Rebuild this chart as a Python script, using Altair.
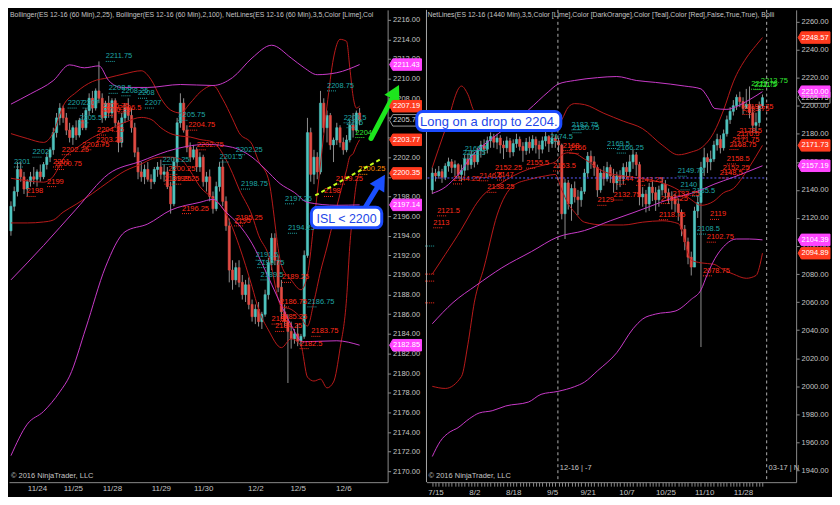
import json
import altair as alt
import pandas as pd

SANS = "'Liberation Sans', Arial, sans-serif"
UP, DOWN, WICK = "#4fc4bf", "#e24b43", "#8f8f8f"
RED_BAND, MAG_BAND = "#b81a1a", "#c83ac8"
TXT = {"teal": "#1fa5a5", "red": "#ff2b1a", "lime": "#33e633", "orange": "#ff8c00"}
AXIS_GRAY, LABEL_GRAY = "#8a8a8a", "#c4c4c4"

W1, W2, H = 380, 371, 474

# ---------------- LEFT PANEL: ES 12-16, 60 min ----------------
l_first_open = 2194.5
l_close = [2197, 2198.5, 2200.75, 2200, 2198.75, 2199.5, 2200, 2199.75, 2200.5, 2200,
           2201.25, 2202, 2202.75, 2204.5, 2206, 2207, 2206, 2204.75, 2204, 2205,
           2204.25, 2205.75, 2205, 2206.75, 2208, 2207, 2208.75, 2208, 2206, 2207.5,
           2206.5, 2207.75, 2205.5, 2203.5, 2206, 2207, 2206.25, 2205, 2202.5, 2200.5,
           2200, 2200.75, 2199.75, 2199.5, 2200.75, 2201, 2200.25, 2200.5, 2199, 2197.25,
           2201.5, 2205.5, 2207.5, 2204.75, 2203, 2202, 2202.75, 2201, 2202, 2199.5,
           2200, 2198, 2196.75, 2199, 2201, 2197.5, 2195, 2190.5, 2189.5, 2190.75,
           2189.25, 2188, 2189, 2187, 2185.75, 2186.5, 2185.25, 2186, 2188, 2191.25,
           2193.75, 2191.5, 2188.75, 2186.25, 2185.25, 2184.25, 2183.5, 2184, 2183.25, 2183.75,
           2192, 2204.5, 2200.25, 2202, 2200.5, 2207.5, 2205, 2206.25, 2203.25, 2203.75,
           2205, 2203.5, 2202.75, 2203.75, 2205.25, 2204.75, 2206.5, 2205.75]
l_high = [2197.5, 2199, 2201.5, 2201.5, 2200.5, 2199.75, 2200.5, 2201, 2200.75, 2201.25,
          2201.5, 2202.5, 2203, 2205, 2206.5, 2207.5, 2207.25, 2206.5, 2205.5, 2205.25,
          2205.75, 2206, 2206.5, 2207, 2208.5, 2208.75, 2209, 2211.75, 2208.5, 2207.75,
          2208.25, 2208, 2208, 2205.75, 2206.5, 2207.5, 2208, 2207, 2205.5, 2203,
          2201.5, 2201.25, 2201.5, 2200.25, 2201, 2201.5, 2201.75, 2201.25, 2201, 2199.5,
          2202, 2206, 2208.5, 2208, 2205.25, 2203.5, 2203.25, 2203, 2202.5, 2202.25,
          2200.5, 2200.75, 2198.5, 2199.5, 2201.5, 2201.75, 2198, 2195.75, 2191.5, 2191.25,
          2191.5, 2190, 2189.5, 2189.75, 2187.5, 2187, 2187.25, 2186.25, 2188.5, 2191.75,
          2194.25, 2194.25, 2192, 2189.5, 2187, 2186, 2185.25, 2184.5, 2185, 2184,
          2192.5, 2206, 2205, 2202.75, 2202.5, 2208.75, 2208, 2206.75, 2206.5, 2204,
          2205.5, 2205.25, 2204, 2204.25, 2205.75, 2206.5, 2206.75, 2207]
l_low = [2194, 2196.5, 2198, 2199.5, 2198.25, 2198, 2199, 2199.25, 2199, 2199.5,
         2199.75, 2200.75, 2201.5, 2202.25, 2204, 2205.25, 2205.5, 2204.25, 2203.5, 2203.25,
         2203.75, 2204, 2204.75, 2204.75, 2206.25, 2206.5, 2206.75, 2207.5, 2205.5, 2205.75,
         2206, 2206, 2205, 2202.5, 2203, 2205.5, 2205.75, 2204.5, 2202, 2199.75,
         2199.5, 2199.25, 2199.5, 2198.75, 2199.25, 2200, 2199.75, 2199.5, 2198.75, 2196.25,
         2197, 2201, 2205, 2204.5, 2202.5, 2201.5, 2201.75, 2200.5, 2200.5, 2199,
         2198.5, 2197.5, 2196.25, 2196.5, 2198.5, 2197, 2194.5, 2189.25, 2188.5, 2189,
         2188.75, 2187.5, 2187.25, 2186.5, 2185.25, 2185, 2184.75, 2184.5, 2185.75, 2187.5,
         2190.5, 2191, 2188.25, 2185.5, 2184.75, 2179, 2182.5, 2183, 2182.75, 2182.75,
         2183.5, 2191.75, 2199.5, 2199.25, 2199.75, 2200.25, 2204.5, 2203.5, 2202.75, 2201.5,
         2203.25, 2203, 2202.25, 2202.5, 2203.5, 2204, 2204.5, 2205.25]

l_tick_pos = [8, 19, 31, 46, 59, 75, 88, 102]
l_tick_lab = ["11/24", "11/25", "11/28", "11/29", "11/30", "12/2", "12/5", "12/6"]
l_y_ticks = [2170, 2172, 2174, 2176, 2178, 2180, 2182, 2184, 2186, 2188, 2190, 2192,
             2194, 2196, 2198, 2200, 2202, 2204, 2206, 2208, 2210, 2212, 2214, 2216]

l_red_bars = [0, 5, 10, 13, 16, 20, 25, 30, 35, 40, 43, 46, 49, 52, 55, 58, 62, 65, 68, 70,
              74, 76, 79, 83, 86, 89, 91, 93, 95, 97, 99, 101, 103, 104, 105, 106, 107]
l_bb25_up = [2204.4, 2203.9, 2203.5, 2204.5, 2207.2, 2208.6, 2209.7, 2210.1, 2210.5, 2210.8,
             2209.9, 2208.0, 2206.8, 2206.5, 2207.5, 2208.6, 2209.3, 2207.9, 2205.9, 2204.5,
             2203.3, 2201.6, 2199.8, 2191.0, 2189.5, 2188.5, 2190.0, 2195.4, 2201.3, 2207.2,
             2212.1, 2214.0, 2213.8, 2211.1, 2208.2, 2207.0, 2207.19]
l_bb25_mid = [2199.85, 2199.6, 2199.45, 2200.05, 2201.8, 2202.9, 2204.0, 2204.8, 2205.55, 2206.05,
              2205.85, 2205.0, 2204.4, 2204.15, 2204.05, 2203.8, 2203.55, 2202.35, 2200.35, 2198.75,
              2196.05, 2194.05, 2192.1, 2186.8, 2186.5, 2185.65, 2184.8, 2187.3, 2190.35, 2192.85,
              2195.6, 2198.25, 2200.7, 2202.05, 2202.35, 2203.15, 2203.77]
l_bb25_lo = [2195.3, 2195.3, 2195.4, 2195.6, 2196.4, 2197.2, 2198.3, 2199.5, 2200.6, 2201.3,
             2201.8, 2202.0, 2202.0, 2201.8, 2200.6, 2199.0, 2197.8, 2196.8, 2194.8, 2193.0,
             2188.8, 2186.5, 2184.4, 2182.6, 2183.5, 2182.8, 2179.6, 2179.2, 2179.4, 2178.5,
             2179.1, 2182.5, 2187.6, 2193.0, 2196.5, 2199.3, 2200.35]
l_bb100_up_bars = [0, 6, 13, 18, 22.5, 27, 30, 34, 42, 52, 62, 68, 74, 80, 86, 90, 94, 100, 107]
l_bb100_up = [2207.4, 2208.45, 2209.8, 2211.4, 2211.1, 2211.3, 2209.8, 2209.1, 2209.1, 2209.4,
              2209.3, 2210.1, 2212.1, 2213.4, 2212.1, 2211.1, 2210.4, 2210.6, 2211.43]
l_bb100_mid_bars = [0, 10, 20, 30, 40, 48, 54, 60, 68, 74, 78, 82.6, 87, 91, 100, 107]
l_bb100_mid = [2189.5, 2193.0, 2196.7, 2200.3, 2201.6, 2202.6, 2203.1, 2203.3, 2203.0, 2202.0,
               2200.8, 2199.3, 2198.4, 2197.4, 2197.1, 2197.14]
l_bb100_lo_bars = [0, 5, 10, 15, 18, 23, 29, 35, 42, 49, 58, 62, 66, 70, 74, 78, 82, 86, 89.5, 100, 107]
l_bb100_lo = [2171.6, 2174.8, 2176.1, 2178.1, 2179.7, 2184.6, 2190.8, 2194.4, 2195.2, 2196.6,
              2197.4, 2197.7, 2196.4, 2195.1, 2193.2, 2190.5, 2187.6, 2184.9, 2183.2, 2183.3, 2182.85]

l_lbl_text = ["2211.75", "2208.5", "2208.25", "2208", "2207", "2207", "2207", "2205.5", "2202", "2201",
              "2205.75", "2201.5", "2201.25", "2202.25", "2198.75", "2197.25", "2194.25", "2191.5",
              "2190.75", "2189.5", "2186.75", "2208.75", "2205.5", "2205",
              "2204",
              "2199", "2198", "2201", "2200.75", "2202.25", "2202.75", "2203.25", "2204.25", "2206.75",
              "2206.25", "2206.5", "2204.75", "2202.75", "2200.25", "2199.25", "2199.25", "2196.25",
              "2195.25", "2195", "2189.25", "2186.75", "2185.25", "2184.25", "2185", "2183.75",
              "2182.5", "2198", "2199.25",
              "2200.25"]
l_lbl_bar = [29.1, 30.0, 33.9, 39.0, 41.1, 17.4, 22.0, 21.0, 6.6, 0.9,
             51.4, 64.0, 46.5, 69.0, 70.6, 84.1, 85.0, 75.1, 75.6, 76.6, 91.0, 97.0, 102.1, 103.0,
             105.7,
             11.1, 4.8, 12.9, 13.5, 15.6, 21.9, 26.1, 26.4, 28.0, 28.5, 33.0, 54.4, 57.0, 48.3,
             47.1, 49.5, 52.5, 69.0, 68.5, 83.2, 82.6, 82.6, 81.1, 80.0, 92.2, 88.6, 96.1, 99.7,
             106.6]
l_lbl_kind = ["teal"] * 24 + ["lime"] + ["red"] * 28 + ["orange"]

l_tag_val = [2205.75, 2211.43, 2207.19, 2203.77, 2200.35, 2197.14, 2182.85]
l_tag_kind = ["blk", "mag", "red", "red", "red", "mag", "mag"]

isl_box_bar = [92.2, 113.8]
isl_box_price = [2194.8, 2196.9]
green_arrow_bar = [110.5, 117.7]
green_arrow_price = [2203.9, 2208.45]
blue_arrow_bar = [108.7, 113.2]
blue_arrow_price = [2196.88, 2199.33]
trend_bar = [93.4, 113.5]
trend_price = [2198.1, 2201.8]

# ---------------- RIGHT PANEL: ES 12-16, daily ----------------
r_first_open = 2140
r_close = [2152, 2150, 2153, 2149, 2157, 2160, 2156, 2158, 2151, 2154,
           2162, 2158, 2165, 2160, 2168, 2172, 2169, 2175, 2178, 2174,
           2177, 2172, 2170, 2175, 2167, 2173, 2176, 2171, 2168, 2174,
           2170, 2176, 2172, 2169, 2175, 2178, 2173, 2177, 2175, 2172,
           2123, 2145, 2130, 2141, 2135, 2133, 2139, 2152, 2164, 2160,
           2156, 2140, 2152, 2148, 2156, 2150, 2145, 2150, 2148, 2156,
           2153, 2160, 2165, 2158, 2135, 2137, 2130, 2142, 2138, 2133,
           2140, 2144, 2138, 2135, 2133, 2130, 2124, 2112, 2103, 2092,
           2085, 2125, 2131, 2156, 2163, 2160, 2162, 2172, 2176, 2170,
           2180, 2190, 2196, 2200, 2206, 2203, 2198, 2201, 2195, 2186,
           2188, 2200, 2205.75]
r_high = [2156, 2155, 2157, 2155, 2159, 2163, 2162, 2161, 2159, 2158,
          2165, 2166, 2168, 2167, 2170, 2175, 2176, 2178, 2181, 2180,
          2180, 2179, 2175, 2178, 2177, 2176, 2180, 2178, 2174, 2177,
          2178, 2179, 2178, 2175, 2178, 2182, 2179, 2181, 2179, 2177,
          2173, 2148, 2147, 2144, 2146, 2140, 2142, 2155, 2167, 2168,
          2164, 2158, 2155, 2157, 2160, 2158, 2155, 2153, 2154, 2159,
          2160, 2165, 2169, 2167, 2160, 2142, 2140, 2145, 2146, 2142,
          2143, 2149, 2147, 2141, 2139, 2137, 2134, 2126, 2115, 2106,
          2096, 2128, 2136, 2160, 2170, 2166, 2168, 2175, 2180, 2179,
          2183, 2193, 2199, 2204, 2208, 2210, 2206, 2212, 2213.75, 2200,
          2195, 2203, 2208]
r_low = [2137, 2146, 2148, 2145, 2147, 2153, 2152, 2150, 2148, 2146,
         2150, 2154, 2155, 2156, 2158, 2163, 2165, 2166, 2170, 2170,
         2169, 2166, 2162, 2167, 2163, 2164, 2170, 2168, 2160, 2165,
         2166, 2168, 2166, 2162, 2166, 2171, 2167, 2170, 2170, 2167,
         2119, 2105, 2126, 2118, 2131, 2122, 2128, 2137, 2149, 2155,
         2150, 2135, 2138, 2143, 2146, 2145, 2138, 2140, 2142, 2144,
         2148, 2149, 2155, 2150, 2129, 2128, 2124, 2125, 2132, 2125,
         2128, 2136, 2134, 2130, 2126, 2124, 2118, 2107, 2097, 2087,
         2079, 2104, 2120, 2028, 2150, 2152, 2154, 2160, 2168, 2166,
         2168, 2178, 2187, 2193, 2197, 2199, 2194, 2198, 2191, 2181,
         2180, 2185, 2198]

r_tick_pos = [1, 13, 25, 37, 48, 60, 72, 84, 96]
r_tick_lab = ["7/15", "8/2", "8/18", "9/5", "9/21", "10/7", "10/25", "11/10", "11/28"]
r_y_ticks = [1940, 1960, 1980, 2000, 2020, 2040, 2060, 2080, 2100, 2120, 2140,
             2160, 2180, 2200, 2220, 2240, 2260]

r_red_bars = [0, 4, 9, 11, 13, 16, 20, 25, 30, 35, 38, 40, 42, 44, 47, 53, 59, 65, 71, 76,
              80, 83, 87, 90, 93, 97, 100, 102]
r_bb_up = [2156, 2183, 2214, 2208, 2196, 2193, 2192, 2191, 2189, 2187, 2184, 2190, 2199, 2201.5,
           2200.8, 2194.6, 2189, 2183.6, 2172, 2165, 2167, 2169.8, 2181, 2197, 2217, 2234, 2243, 2248.57]
r_bb_mid = [2080, 2094, 2112, 2120, 2128, 2137, 2143, 2150, 2155, 2158, 2160, 2165, 2166.5, 2166,
            2162, 2153, 2150, 2148, 2145, 2140, 2133, 2129, 2132, 2138, 2141, 2153, 2164, 2171.73]
r_bb_lo = [2000, 1998.5, 2007, 2030, 2060, 2085, 2122, 2143, 2147.5, 2150, 2151, 2140, 2130, 2124,
           2117, 2115, 2115, 2117, 2118, 2116, 2090, 2088, 2087, 2083, 2080, 2077, 2079, 2094.89]
r_mag_up_bars = [0, 4, 8, 12.5, 17.5, 23.6, 29.7, 35.8, 38.8, 44, 51, 57, 63, 69, 78, 83, 85,
                 87.3, 91, 94, 98, 102]
r_mag_up = [2137.5, 2142, 2151, 2165, 2175, 2185.7, 2197, 2209.8, 2215.3, 2218, 2220, 2220.8,
            2218, 2216.6, 2214, 2212, 2206.3, 2198, 2197.4, 2199.4, 2204.3, 2210]
r_mag_mid_bars = [0, 6.4, 13.6, 21.5, 30.6, 38.8, 47, 55, 62, 67, 74, 80, 84, 87, 93, 97, 102]
r_mag_mid = [2044.6, 2059.7, 2072, 2084.5, 2096, 2106.5, 2111, 2118, 2123.7, 2128, 2134, 2137.5,
             2141, 2144, 2149, 2152.6, 2157.19]
r_mag_lo_bars = [0, 2.4, 5.5, 7.6, 11.5, 14.5, 18.5, 22.7, 29.7, 33.6, 38.8, 44, 47, 51, 57, 62,
                 65, 69, 75, 80, 83, 85, 87.3, 90, 94, 98, 102]
r_mag_lo = [1950, 1960.6, 1967.6, 1970, 1977, 1981, 1982.6, 1986, 1988.8, 1994.3, 1996.4, 1999.8,
            2003, 2011, 2024, 2041, 2048, 2051.5, 2053.6, 2062, 2068.7, 2080, 2091, 2099.6, 2105,
            2105, 2104.39]

r_lbl_text = ["2165.5", "2162.5", "2182.75", "2180.75", "2174.5", "2169.5", "2166.25", "2149.75",
              "2140", "2135.5", "2108.5",
              "2213.75", "2211.75", "2211.5",
              "2152.25", "2146.5", "2147", "2144.25", "2138.25", "2121.5", "2113", "2155.5", "2168",
              "2166", "2153.5", "2129", "2132.75", "2144", "2143.25", "2133.25", "2130.25", "2118.75",
              "2119", "2102.75", "2078.75", "2158.5", "2152.25", "2148.5", "2168.75", "2171.75",
              "2176.5", "2178.5", "2193.75", "2195.75"]
r_lbl_bar = [10, 9.4, 43, 43.3, 36.4, 54, 57, 75.8, 76.7, 80.3, 81.8,
             101.5, 98.5, 99.5,
             19.4, 14.5, 20, 6.4, 17, 1.5, 0.3, 29, 40.3, 42.4, 37.3, 51, 56, 57, 63, 74.2, 70.6, 70,
             85.8, 84.8, 83.6, 91, 89.7, 88.8, 91.8, 92.7, 94, 94.8, 95.8, 97]
r_lbl_kind = ["teal"] * 11 + ["lime"] * 3 + ["red"] * 30
r_stub_val = [2100, 2080, 2075, 2059.5]
r_stub_kind = ["teal", "red", "red", "red"]

r_tag_val = [2205.75, 2248.57, 2210.00, 2171.73, 2157.19, 2104.39, 2094.89]
r_tag_kind = ["blk", "red", "mag", "red", "mag", "mag", "red"]

r_vline_bar = [38.8, 103.3]
r_hline_price = [2148.5]
r_hline_bar = [-1.5, 103.3]
r_roll_text = ["12-16 | -7", "03-17 | N"]
r_roll_bar = [39.4, 103.9]
r_roll_price = [1942, 1942]

long_box_bar = [-4.8, 39.7]
long_box_price = [2182.4, 2195.9]

L_TITLE = ("Bollinger(ES 12-16 (60 Min),2,25), Bollinger(ES 12-16 (60 Min),2,100), "
           "NetLines(ES 12-16 (60 Min),3,5,Color [Lime],Col")
R_TITLE = ("NetLines(ES 12-16 (1440 Min),3,5,Color [Lime],Color [DarkOrange],Color [Teal],"
           "Color [Red],False,True,True), Bolli")
COPY = "© 2016 NinjaTrader, LLC"

TAG_SHAPE = "M -1 0 L -0.8 -0.36 L 1 -0.36 L 1 0.36 L -0.8 0.36 Z"
HEAD_SHAPE = "M 0 -1 L 0.85 0.55 L -0.85 0.55 Z"


def candle_df(first_open, closes, highs, lows):
    opens = [first_open] + closes[:-1]
    rows = []
    for i, (o, h, l, c) in enumerate(zip(opens, highs, lows, closes)):
        rows.append({"bar": i, "open": o, "high": h, "low": l, "close": c,
                     "col": UP if c >= o else DOWN})
    return pd.DataFrame(rows)


def band_df(specs):
    rows = []
    for name, col, bars, vals in specs:
        for b, v in zip(bars, vals):
            rows.append({"band": name, "col": col, "bar": b, "price": v})
    return pd.DataFrame(rows)


def label_df(texts, bars, kinds):
    return pd.DataFrame({"text": texts, "bar": bars, "val": [float(t) for t in texts],
                         "col": [TXT[k] for k in kinds]})


def tag_df(vals, kinds):
    fills = {"red": "#ff3b1f", "mag": "#ff45ff", "blk": "#000000"}
    strokes = {"red": "#ff3b1f", "mag": "#ff45ff", "blk": "#9a9a9a"}
    tcols = {"red": "#ffffff", "mag": "#ffffff", "blk": "#d8d8d8"}
    return pd.DataFrame({"val": vals, "txt": [f"{v:.2f}" for v in vals],
                         "fill": [fills[k] for k in kinds], "stroke": [strokes[k] for k in kinds],
                         "tcol": [tcols[k] for k in kinds]})


def label_expr(pos, labs):
    p = json.dumps(pos)
    return f"indexof({p}, datum.value) >= 0 ? {json.dumps(labs)}[indexof({p}, datum.value)] : ''"


def y_axis(values):
    return alt.Axis(orient="right", values=values, format=".2f", grid=False, tickSize=3,
                    labelPadding=2, labelFontSize=7.5, labelFont=SANS, labelColor=LABEL_GRAY,
                    domainColor=AXIS_GRAY, tickColor=AXIS_GRAY, labelOverlap=False,
                    minExtent=34, maxExtent=34, title=None)


def x_axis(values, expr, ticks):
    return alt.Axis(values=values, labelExpr=expr, grid=False, ticks=ticks, tickSize=4,
                    labelPadding=2, labelFontSize=8, labelFont=SANS, labelColor=LABEL_GRAY,
                    domainColor=AXIS_GRAY, tickColor=AXIS_GRAY, labelOverlap=False,
                    labelFlush=False, title=None)


def panel(W, xdom, ydom, xax, yax, cdf, bdf, ldf, tdf, title, extra_fn):
    xs = alt.Scale(domain=xdom, nice=False, zero=False)
    ys = alt.Scale(domain=ydom, nice=False, zero=False)

    def X(f):
        return alt.X(f, type="quantitative", scale=xs, axis=xax, title=None)

    def Y(f):
        return alt.Y(f, type="quantitative", scale=ys, axis=yax, title=None)

    layers = []
    layers.append(alt.Chart(cdf).mark_rule(color=WICK, strokeWidth=1).encode(
        x=X("bar"), y=Y("low"), y2="high"))
    layers.append(alt.Chart(cdf).transform_calculate(
        x0="datum.bar - 0.33", x1="datum.bar + 0.33").mark_rect(strokeWidth=0.6).encode(
        x=X("x0"), x2="x1:Q", y=Y("open"), y2="close:Q",
        fill=alt.Fill("col:N", scale=None), stroke=alt.Stroke("col:N", scale=None)))
    layers.append(alt.Chart(bdf).mark_line(strokeWidth=1, interpolate="monotone").encode(
        x=X("bar"), y=Y("price"), detail="band:N",
        stroke=alt.Stroke("col:N", scale=None)))
    layers.append(alt.Chart(ldf).transform_calculate(bx="datum.bar + 3").mark_rule(
        strokeDash=[1, 1], strokeWidth=1).encode(
        x=X("bar"), x2="bx:Q", y=Y("val"), color=alt.Color("col:N", scale=None)))
    layers.append(alt.Chart(ldf).mark_text(align="left", baseline="bottom", dy=-1, fontSize=7.5,
                                           font=SANS).encode(
        x=X("bar"), y=Y("val"), text="text:N", color=alt.Color("col:N", scale=None)))
    layers += extra_fn(X, Y)
    layers.append(alt.Chart(tdf).mark_point(shape=TAG_SHAPE, size=1024, filled=True, opacity=1,
                                            strokeWidth=1).encode(
        x=alt.value(W + 18), y=Y("val"),
        fill=alt.Fill("fill:N", scale=None), stroke=alt.Stroke("stroke:N", scale=None)))
    layers.append(alt.Chart(tdf).mark_text(fontSize=7.5, font=SANS, align="center",
                                           baseline="middle").encode(
        x=alt.value(W + 19), y=Y("val"), text="txt:N", color=alt.Color("tcol:N", scale=None)))
    layers.append(alt.Chart(pd.DataFrame({"t": [title]})).mark_text(
        align="left", baseline="top", fontSize=6.9, font=SANS, color=LABEL_GRAY,
        limit=W).encode(x=alt.value(1), y=alt.value(2), text="t:N"))
    layers.append(alt.Chart(pd.DataFrame({"t": [COPY]})).mark_text(
        align="left", baseline="bottom", fontSize=7.5, font=SANS, color=LABEL_GRAY).encode(
        x=alt.value(2), y=alt.value(H - 2), text="t:N"))
    return alt.layer(*layers).properties(width=W, height=H)


def box_layers(X, Y, bars, prices, text, size):
    bdf = pd.DataFrame({"b0": [bars[0]], "b1": [bars[1]], "p0": [prices[0]], "p1": [prices[1]],
                        "bc": [(bars[0] + bars[1]) / 2], "pc": [(prices[0] + prices[1]) / 2],
                        "t": [text]})
    rect = alt.Chart(bdf).mark_rect(fill="#ffffff", stroke="#1c4cff", strokeWidth=3,
                                    cornerRadius=6).encode(
        x=X("b0"), x2="b1:Q", y=Y("p0"), y2="p1:Q")
    txt = alt.Chart(bdf).mark_text(font=SANS, fontSize=size, color="#2347e8", align="center",
                                   baseline="middle", dy=1).encode(
        x=X("bc"), y=Y("pc"), text="t:N")
    return [rect, txt]


def arrow_layers(X, Y, bars, prices, color, angle):
    adf = pd.DataFrame({"bar": bars, "price": prices})
    shaft = alt.Chart(adf).mark_line(color=color, strokeWidth=5, strokeCap="round").encode(
        x=X("bar"), y=Y("price"))
    head = alt.Chart(adf.tail(1)).mark_point(shape=HEAD_SHAPE, size=400, filled=True,
                                             opacity=1, color=color, angle=angle).encode(
        x=X("bar"), y=Y("price"))
    return [shaft, head]


def left_extra(X, Y):
    tdf = pd.DataFrame({"bar": trend_bar, "price": trend_price})
    trend = alt.Chart(tdf).mark_line(color="#c6ff1a", strokeWidth=2, strokeDash=[4, 3]).encode(
        x=X("bar"), y=Y("price"))
    out = [trend]
    out += arrow_layers(X, Y, green_arrow_bar, green_arrow_price, "#1de61d", 27)
    out += arrow_layers(X, Y, blue_arrow_bar, blue_arrow_price, "#1a4fff", 31)
    out += box_layers(X, Y, isl_box_bar, isl_box_price, "ISL < 2200", 12.5)
    return out


def right_extra(X, Y):
    out = []
    out.append(alt.Chart(pd.DataFrame({"bar": r_vline_bar})).mark_rule(
        color="#b0b0b0", strokeDash=[3, 3], strokeWidth=1).encode(x=X("bar")))
    out.append(alt.Chart(pd.DataFrame({"b0": [r_hline_bar[0]], "b1": [r_hline_bar[1]],
                                       "p": r_hline_price})).mark_rule(
        color="#5b5bff", strokeDash=[2, 2], strokeWidth=1).encode(
        x=X("b0"), x2="b1:Q", y=Y("p")))
    sdf = pd.DataFrame({"bar": [-2.2] * len(r_stub_val), "val": r_stub_val,
                        "col": [TXT[k] for k in r_stub_kind]})
    out.append(alt.Chart(sdf).transform_calculate(bx="datum.bar + 3").mark_rule(
        strokeDash=[1, 1], strokeWidth=1).encode(
        x=X("bar"), x2="bx:Q", y=Y("val"), color=alt.Color("col:N", scale=None)))
    out.append(alt.Chart(pd.DataFrame({"bar": r_roll_bar, "p": r_roll_price,
                                       "t": r_roll_text})).mark_text(
        align="left", baseline="middle", fontSize=7.5, font=SANS, color=LABEL_GRAY).encode(
        x=X("bar"), y=Y("p"), text="t:N"))
    out.append(alt.Chart(pd.DataFrame({"k": [0]})).mark_rule(color="#a8a8a8", strokeWidth=1).encode(
        x=alt.value(0), y=alt.value(0), y2=alt.value(H)))
    out += box_layers(X, Y, long_box_bar, long_box_price, "Long on a drop to 2204.", 13)
    return out


left_bands = band_df([
    ("u25", RED_BAND, l_red_bars, l_bb25_up),
    ("m25", RED_BAND, l_red_bars, l_bb25_mid),
    ("l25", RED_BAND, l_red_bars, l_bb25_lo),
    ("u100", MAG_BAND, l_bb100_up_bars, l_bb100_up),
    ("m100", MAG_BAND, l_bb100_mid_bars, l_bb100_mid),
    ("l100", MAG_BAND, l_bb100_lo_bars, l_bb100_lo),
])
right_bands = band_df([
    ("u", RED_BAND, r_red_bars, r_bb_up),
    ("m", RED_BAND, r_red_bars, r_bb_mid),
    ("l", RED_BAND, r_red_bars, r_bb_lo),
    ("mu", MAG_BAND, r_mag_up_bars, r_mag_up),
    ("mm", MAG_BAND, r_mag_mid_bars, r_mag_mid),
    ("ml", MAG_BAND, r_mag_lo_bars, r_mag_lo),
])

left = panel(W1, [-0.6, 115.6], [2168.9, 2217.0],
             x_axis(l_tick_pos, label_expr(l_tick_pos, l_tick_lab), False),
             y_axis(l_y_ticks),
             candle_df(l_first_open, l_close, l_high, l_low), left_bands,
             label_df(l_lbl_text, l_lbl_bar, l_lbl_kind), tag_df(l_tag_val, l_tag_kind),
             L_TITLE, left_extra)

r_all_ticks = list(range(0, len(r_close)))
right = panel(W2, [-1.8, 112.4], [1931.7, 2268.3],
              x_axis(r_all_ticks, label_expr(r_tick_pos, r_tick_lab), True),
              y_axis(r_y_ticks),
              candle_df(r_first_open, r_close, r_high, r_low), right_bands,
              label_df(r_lbl_text, r_lbl_bar, r_lbl_kind), tag_df(r_tag_val, r_tag_kind),
              R_TITLE, right_extra)

chart = alt.hconcat(left, right, spacing=39, bounds="flush", padding=0).configure(
    background="#000000").configure_view(stroke=None)

chart.save("out.html", embed_options={"renderer": "svg", "actions": False})
